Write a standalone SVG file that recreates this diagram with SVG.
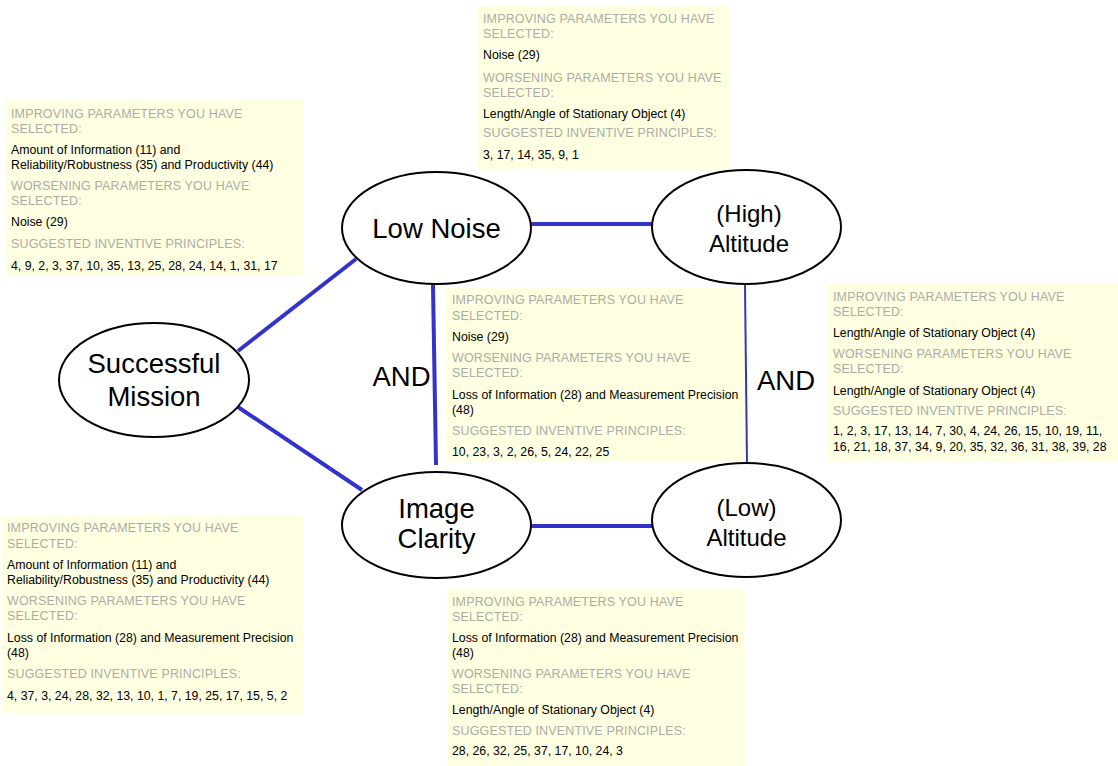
<svg xmlns="http://www.w3.org/2000/svg" width="1118" height="766" viewBox="0 0 1118 766">
<style>
.box{fill:#ffffe1;stroke:none}
.h{font-family:"Liberation Sans",Arial,sans-serif;font-size:12.5px;fill:#acaca6;letter-spacing:0.15px}
.b{font-family:"Liberation Sans",Arial,sans-serif;font-size:12.3px;fill:#000}
.node{fill:#fff;stroke:#000;stroke-width:2}
.lbl{font-family:"Liberation Sans",Arial,sans-serif;font-size:27.5px;fill:#000;text-anchor:middle}
.lbl2{font-family:"Liberation Sans",Arial,sans-serif;font-size:24px;fill:#000;text-anchor:middle}
.c{stroke:#3333cc;stroke-width:4;fill:none}
</style>
<rect width="1118" height="766" fill="#fff"/>
<g id="note-successful-mission">
<rect class="box" x="5" y="99" width="298" height="177"/>
<text class="h" x="11" y="117.5">IMPROVING PARAMETERS YOU HAVE</text>
<text class="h" x="11" y="132.5">SELECTED:</text>
<text class="b" x="11" y="153.5">Amount of Information (11) and</text>
<text class="b" x="11" y="168.5">Reliability/Robustness (35) and Productivity (44)</text>
<text class="h" x="11" y="189.5">WORSENING PARAMETERS YOU HAVE</text>
<text class="h" x="11" y="204.5">SELECTED:</text>
<text class="b" x="11" y="226">Noise (29)</text>
<text class="h" x="11" y="248">SUGGESTED INVENTIVE PRINCIPLES:</text>
<text class="b" x="11" y="269.5">4, 9, 2, 3, 37, 10, 35, 13, 25, 28, 24, 14, 1, 31, 17</text>
</g>
<g id="note-low-noise-high">
<rect class="box" x="478" y="5" width="252" height="164"/>
<text class="h" x="483" y="23">IMPROVING PARAMETERS YOU HAVE</text>
<text class="h" x="483" y="38">SELECTED:</text>
<text class="b" x="483" y="58.5">Noise (29)</text>
<text class="h" x="483" y="81.5">WORSENING PARAMETERS YOU HAVE</text>
<text class="h" x="483" y="97">SELECTED:</text>
<text class="b" x="483" y="117.5">Length/Angle of Stationary Object (4)</text>
<text class="h" x="483" y="137">SUGGESTED INVENTIVE PRINCIPLES:</text>
<text class="b" x="483" y="158.5">3, 17, 14, 35, 9, 1</text>
</g>
<g id="note-and-left">
<rect class="box" x="446" y="287" width="299" height="175"/>
<text class="h" x="452" y="304">IMPROVING PARAMETERS YOU HAVE</text>
<text class="h" x="452" y="320">SELECTED:</text>
<text class="b" x="452" y="341">Noise (29)</text>
<text class="h" x="452" y="361.5">WORSENING PARAMETERS YOU HAVE</text>
<text class="h" x="452" y="377">SELECTED:</text>
<text class="b" x="452" y="398.5">Loss of Information (28) and Measurement Precision</text>
<text class="b" x="452" y="413.5">(48)</text>
<text class="h" x="452" y="435">SUGGESTED INVENTIVE PRINCIPLES:</text>
<text class="b" x="452" y="456">10, 23, 3, 2, 26, 5, 24, 22, 25</text>
</g>
<g id="note-and-right">
<rect class="box" x="828" y="284" width="290" height="177"/>
<text class="h" x="833" y="300.5">IMPROVING PARAMETERS YOU HAVE</text>
<text class="h" x="833" y="316">SELECTED:</text>
<text class="b" x="833" y="337">Length/Angle of Stationary Object (4)</text>
<text class="h" x="833" y="358">WORSENING PARAMETERS YOU HAVE</text>
<text class="h" x="833" y="373">SELECTED:</text>
<text class="b" x="833" y="394.5">Length/Angle of Stationary Object (4)</text>
<text class="h" x="833" y="415">SUGGESTED INVENTIVE PRINCIPLES:</text>
<text class="b" x="833" y="435">1, 2, 3, 17, 13, 14, 7, 30, 4, 24, 26, 15, 10, 19, 11,</text>
<text class="b" x="833" y="451">16, 21, 18, 37, 34, 9, 20, 35, 32, 36, 31, 38, 39, 28</text>
</g>
<g id="note-image-clarity">
<rect class="box" x="2" y="516" width="301" height="197"/>
<text class="h" x="7" y="532">IMPROVING PARAMETERS YOU HAVE</text>
<text class="h" x="7" y="548">SELECTED:</text>
<text class="b" x="7" y="569">Amount of Information (11) and</text>
<text class="b" x="7" y="584">Reliability/Robustness (35) and Productivity (44)</text>
<text class="h" x="7" y="604.5">WORSENING PARAMETERS YOU HAVE</text>
<text class="h" x="7" y="620">SELECTED:</text>
<text class="b" x="7" y="642">Loss of Information (28) and Measurement Precision</text>
<text class="b" x="7" y="657">(48)</text>
<text class="h" x="7" y="678">SUGGESTED INVENTIVE PRINCIPLES:</text>
<text class="b" x="7" y="700">4, 37, 3, 24, 28, 32, 13, 10, 1, 7, 19, 25, 17, 15, 5, 2</text>
</g>
<g id="note-image-clarity-low">
<rect class="box" x="447" y="589" width="298" height="177"/>
<text class="h" x="452" y="605.5">IMPROVING PARAMETERS YOU HAVE</text>
<text class="h" x="452" y="621">SELECTED:</text>
<text class="b" x="452" y="642">Loss of Information (28) and Measurement Precision</text>
<text class="b" x="452" y="657">(48)</text>
<text class="h" x="452" y="678">WORSENING PARAMETERS YOU HAVE</text>
<text class="h" x="452" y="693">SELECTED:</text>
<text class="b" x="452" y="714">Length/Angle of Stationary Object (4)</text>
<text class="h" x="452" y="735">SUGGESTED INVENTIVE PRINCIPLES:</text>
<text class="b" x="452" y="755">28, 26, 32, 25, 37, 17, 10, 24, 3</text>
</g>
<g id="connectors">
<line class="c" x1="238" y1="351" x2="356" y2="259"/>
<line class="c" x1="238" y1="407" x2="362" y2="490"/>
<line class="c" x1="531" y1="224" x2="653" y2="224"/>
<line class="c" x1="433" y1="285" x2="436" y2="465"/>
<line class="c" x1="745" y1="285" x2="747" y2="465" style="stroke-width:2"/>
<line class="c" x1="531" y1="526" x2="653" y2="526"/>
</g>
<g id="and-labels">
<text class="lbl" x="401.5" y="386">AND</text>
<text class="lbl" x="786" y="390">AND</text>
</g>
<g id="node-successful-mission">
<ellipse class="node" cx="154" cy="380" rx="95" ry="57"/>
<text class="lbl" x="154" y="373">Successful</text>
<text class="lbl" x="154" y="406">Mission</text>
</g>
<g id="node-low-noise">
<ellipse class="node" cx="436.5" cy="228" rx="94.5" ry="56"/>
<text class="lbl" x="436.5" y="238">Low Noise</text>
</g>
<g id="node-high-altitude">
<ellipse class="node" cx="746.5" cy="227" rx="94.5" ry="57"/>
<text class="lbl2" x="749" y="222">(High)</text>
<text class="lbl2" x="749" y="252">Altitude</text>
</g>
<g id="node-image-clarity">
<ellipse class="node" cx="436.5" cy="525" rx="94.5" ry="53"/>
<text class="lbl" x="436.5" y="518">Image</text>
<text class="lbl" x="436.5" y="548">Clarity</text>
</g>
<g id="node-low-altitude">
<ellipse class="node" cx="746.5" cy="520" rx="94.5" ry="57"/>
<text class="lbl2" x="746.5" y="516">(Low)</text>
<text class="lbl2" x="746.5" y="546">Altitude</text>
</g>
</svg>
